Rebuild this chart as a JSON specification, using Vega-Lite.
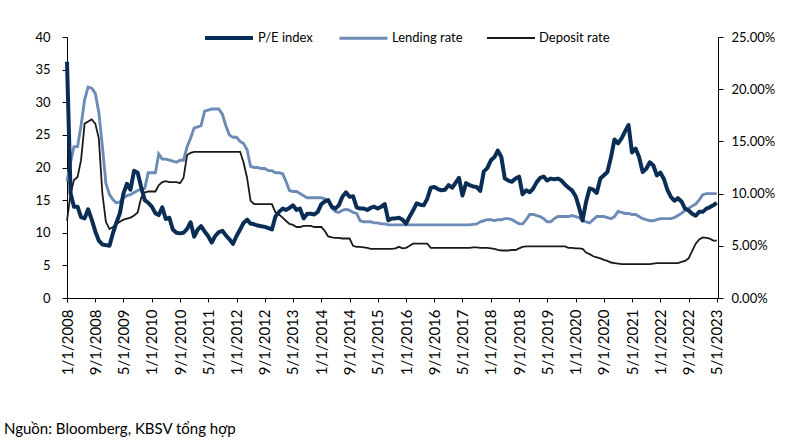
{
  "$schema": "https://vega.github.io/schema/vega-lite/v6.json",
  "width": 651,
  "height": 261,
  "autosize": {"type": "none"},
  "padding": {"left": 67, "top": 37, "right": 84, "bottom": 146},
  "background": "white",
  "config": {
    "view": {"stroke": null},
    "font": "Lato",
    "axis": {"grid": false, "domainColor": "black", "tickColor": "black", "labelColor": "black", "labelFont": "Lato", "titleFont": "Lato"}
  },
  "title": {
    "text": "Nguồn: Bloomberg, KBSV tổng hợp",
    "orient": "bottom",
    "anchor": "start",
    "frame": "group",
    "dx": -63,
    "offset": 47,
    "font": "Lato",
    "fontSize": 15,
    "fontWeight": "normal",
    "color": "black"
  },
  "data": {
    "values": [
      {"d": "2008/01/01", "pe": 36.2, "lend": 11.2, "dep": 7.4},
      {"d": "2008/02/01", "pe": 16, "lend": 13, "dep": 10},
      {"d": "2008/03/01", "pe": 14, "lend": 14.5, "dep": 11.3},
      {"d": "2008/04/01", "pe": 14, "lend": 14.5, "dep": 11.6},
      {"d": "2008/05/01", "pe": 12.4, "lend": 16.5, "dep": 13.2},
      {"d": "2008/06/01", "pe": 12.2, "lend": 19, "dep": 16.7},
      {"d": "2008/07/01", "pe": 13.6, "lend": 20.2, "dep": 16.9},
      {"d": "2008/08/01", "pe": 12, "lend": 20.1, "dep": 17.1},
      {"d": "2008/09/01", "pe": 10.2, "lend": 19.6, "dep": 16.7},
      {"d": "2008/10/01", "pe": 8.8, "lend": 17.8, "dep": 15.3},
      {"d": "2008/11/01", "pe": 8.2, "lend": 14.5, "dep": 10},
      {"d": "2008/12/01", "pe": 8.1, "lend": 11, "dep": 7.3},
      {"d": "2009/01/01", "pe": 8.0, "lend": 9.9, "dep": 6.6},
      {"d": "2009/02/01", "pe": 10, "lend": 9.4, "dep": 6.8},
      {"d": "2009/03/01", "pe": 11.5, "lend": 9.1, "dep": 7.1},
      {"d": "2009/04/01", "pe": 13, "lend": 9.2, "dep": 7.3},
      {"d": "2009/05/01", "pe": 16, "lend": 9.6, "dep": 7.5},
      {"d": "2009/06/01", "pe": 17.5, "lend": 9.8, "dep": 7.6},
      {"d": "2009/07/01", "pe": 16.6, "lend": 9.9, "dep": 7.7},
      {"d": "2009/08/01", "pe": 19.5, "lend": 10.1, "dep": 7.9},
      {"d": "2009/09/01", "pe": 19.2, "lend": 10.3, "dep": 8.2},
      {"d": "2009/10/01", "pe": 17, "lend": 10.4, "dep": 9.6},
      {"d": "2009/11/01", "pe": 15, "lend": 10.5, "dep": 10.1},
      {"d": "2009/12/01", "pe": 14.6, "lend": 12, "dep": 10.2},
      {"d": "2010/01/01", "pe": 14, "lend": 12, "dep": 10.2},
      {"d": "2010/02/01", "pe": 13, "lend": 12, "dep": 10.2},
      {"d": "2010/03/01", "pe": 12.7, "lend": 13.8, "dep": 10.8},
      {"d": "2010/04/01", "pe": 13.9, "lend": 13.3, "dep": 11.1},
      {"d": "2010/05/01", "pe": 12.1, "lend": 13.3, "dep": 11.2},
      {"d": "2010/06/01", "pe": 12.3, "lend": 13.2, "dep": 11.1},
      {"d": "2010/07/01", "pe": 10.5, "lend": 13.1, "dep": 11.1},
      {"d": "2010/08/01", "pe": 10, "lend": 13, "dep": 11.1},
      {"d": "2010/09/01", "pe": 9.9, "lend": 13.2, "dep": 11.0},
      {"d": "2010/10/01", "pe": 10, "lend": 13.2, "dep": 11.5},
      {"d": "2010/11/01", "pe": 10.6, "lend": 14.5, "dep": 13.7},
      {"d": "2010/12/01", "pe": 11.6, "lend": 15.3, "dep": 13.9},
      {"d": "2011/01/01", "pe": 9.4, "lend": 16.3, "dep": 14},
      {"d": "2011/02/01", "pe": 10.5, "lend": 16.4, "dep": 14},
      {"d": "2011/03/01", "pe": 11, "lend": 16.5, "dep": 14},
      {"d": "2011/04/01", "pe": 10.2, "lend": 17.9, "dep": 14},
      {"d": "2011/05/01", "pe": 9.5, "lend": 18, "dep": 14},
      {"d": "2011/06/01", "pe": 8.5, "lend": 18.1, "dep": 14},
      {"d": "2011/07/01", "pe": 9.5, "lend": 18.1, "dep": 14},
      {"d": "2011/08/01", "pe": 10.1, "lend": 18.1, "dep": 14},
      {"d": "2011/09/01", "pe": 10.3, "lend": 17.6, "dep": 14},
      {"d": "2011/10/01", "pe": 9.6, "lend": 16.5, "dep": 14},
      {"d": "2011/11/01", "pe": 9, "lend": 15.6, "dep": 14},
      {"d": "2011/12/01", "pe": 8.3, "lend": 15.4, "dep": 14},
      {"d": "2012/01/01", "pe": 9.5, "lend": 15.4, "dep": 14},
      {"d": "2012/02/01", "pe": 10.5, "lend": 15, "dep": 14},
      {"d": "2012/03/01", "pe": 11.5, "lend": 14.8, "dep": 13},
      {"d": "2012/04/01", "pe": 12, "lend": 14.2, "dep": 11.5},
      {"d": "2012/05/01", "pe": 11.4, "lend": 12.6, "dep": 9.3},
      {"d": "2012/06/01", "pe": 11.3, "lend": 12.5, "dep": 9},
      {"d": "2012/07/01", "pe": 11.1, "lend": 12.5, "dep": 9},
      {"d": "2012/08/01", "pe": 11, "lend": 12.4, "dep": 9},
      {"d": "2012/09/01", "pe": 10.9, "lend": 12.4, "dep": 9},
      {"d": "2012/10/01", "pe": 10.7, "lend": 12.2, "dep": 9},
      {"d": "2012/11/01", "pe": 10.5, "lend": 12.2, "dep": 9},
      {"d": "2012/12/01", "pe": 12.5, "lend": 12, "dep": 8.2},
      {"d": "2013/01/01", "pe": 13.2, "lend": 12, "dep": 8},
      {"d": "2013/02/01", "pe": 13.7, "lend": 11.9, "dep": 7.7},
      {"d": "2013/03/01", "pe": 13.5, "lend": 11.2, "dep": 7.4},
      {"d": "2013/04/01", "pe": 13.8, "lend": 10.3, "dep": 7.1},
      {"d": "2013/05/01", "pe": 14.2, "lend": 10.2, "dep": 7},
      {"d": "2013/06/01", "pe": 13.5, "lend": 10.2, "dep": 6.8},
      {"d": "2013/07/01", "pe": 13.7, "lend": 10, "dep": 6.8},
      {"d": "2013/08/01", "pe": 12.2, "lend": 9.8, "dep": 6.9},
      {"d": "2013/09/01", "pe": 12.9, "lend": 9.6, "dep": 6.9},
      {"d": "2013/10/01", "pe": 12.9, "lend": 9.6, "dep": 6.9},
      {"d": "2013/11/01", "pe": 12.8, "lend": 9.6, "dep": 6.8},
      {"d": "2013/12/01", "pe": 13.2, "lend": 9.6, "dep": 6.8},
      {"d": "2014/01/01", "pe": 14.4, "lend": 9.6, "dep": 6.8},
      {"d": "2014/02/01", "pe": 14.8, "lend": 9.5, "dep": 6.4},
      {"d": "2014/03/01", "pe": 15, "lend": 9.3, "dep": 5.9},
      {"d": "2014/04/01", "pe": 14, "lend": 8.6, "dep": 5.8},
      {"d": "2014/05/01", "pe": 13.7, "lend": 8.3, "dep": 5.75},
      {"d": "2014/06/01", "pe": 14.2, "lend": 8.2, "dep": 5.75},
      {"d": "2014/07/01", "pe": 15.5, "lend": 8.4, "dep": 5.7},
      {"d": "2014/08/01", "pe": 16.2, "lend": 8.5, "dep": 5.7},
      {"d": "2014/09/01", "pe": 15.5, "lend": 8.4, "dep": 5.7},
      {"d": "2014/10/01", "pe": 15.6, "lend": 8.2, "dep": 5},
      {"d": "2014/11/01", "pe": 13.9, "lend": 8.1, "dep": 4.9},
      {"d": "2014/12/01", "pe": 13.7, "lend": 7.4, "dep": 4.9},
      {"d": "2015/01/01", "pe": 13.7, "lend": 7.3, "dep": 4.85},
      {"d": "2015/02/01", "pe": 13.5, "lend": 7.3, "dep": 4.8},
      {"d": "2015/03/01", "pe": 13.8, "lend": 7.3, "dep": 4.7},
      {"d": "2015/04/01", "pe": 14, "lend": 7.2, "dep": 4.7},
      {"d": "2015/05/01", "pe": 13.7, "lend": 7.2, "dep": 4.7},
      {"d": "2015/06/01", "pe": 14, "lend": 7.1, "dep": 4.7},
      {"d": "2015/07/01", "pe": 14.4, "lend": 7.1, "dep": 4.7},
      {"d": "2015/08/01", "pe": 11.9, "lend": 7, "dep": 4.7},
      {"d": "2015/09/01", "pe": 12.2, "lend": 7, "dep": 4.7},
      {"d": "2015/10/01", "pe": 12.2, "lend": 7, "dep": 4.75},
      {"d": "2015/11/01", "pe": 12.3, "lend": 7, "dep": 4.9},
      {"d": "2015/12/01", "pe": 12, "lend": 7, "dep": 4.75},
      {"d": "2016/01/01", "pe": 11.4, "lend": 7, "dep": 4.8},
      {"d": "2016/02/01", "pe": 12.5, "lend": 7, "dep": 5},
      {"d": "2016/03/01", "pe": 13.4, "lend": 7, "dep": 5.2},
      {"d": "2016/04/01", "pe": 14.5, "lend": 7, "dep": 5.2},
      {"d": "2016/05/01", "pe": 14.3, "lend": 7, "dep": 5.2},
      {"d": "2016/06/01", "pe": 14.2, "lend": 7, "dep": 5.2},
      {"d": "2016/07/01", "pe": 15.2, "lend": 7, "dep": 5.2},
      {"d": "2016/08/01", "pe": 16.9, "lend": 7, "dep": 4.8},
      {"d": "2016/09/01", "pe": 17, "lend": 7, "dep": 4.8},
      {"d": "2016/10/01", "pe": 16.7, "lend": 7, "dep": 4.8},
      {"d": "2016/11/01", "pe": 16.5, "lend": 7, "dep": 4.8},
      {"d": "2016/12/01", "pe": 16.6, "lend": 7, "dep": 4.8},
      {"d": "2017/01/01", "pe": 17.3, "lend": 7, "dep": 4.8},
      {"d": "2017/02/01", "pe": 16.9, "lend": 7, "dep": 4.8},
      {"d": "2017/03/01", "pe": 17.6, "lend": 7, "dep": 4.8},
      {"d": "2017/04/01", "pe": 18.4, "lend": 7, "dep": 4.8},
      {"d": "2017/05/01", "pe": 15.7, "lend": 7, "dep": 4.8},
      {"d": "2017/06/01", "pe": 17.6, "lend": 7, "dep": 4.8},
      {"d": "2017/07/01", "pe": 17.3, "lend": 7, "dep": 4.8},
      {"d": "2017/08/01", "pe": 17.1, "lend": 7.05, "dep": 4.85},
      {"d": "2017/09/01", "pe": 17, "lend": 7.1, "dep": 4.85},
      {"d": "2017/10/01", "pe": 16.4, "lend": 7.3, "dep": 4.8},
      {"d": "2017/11/01", "pe": 19.4, "lend": 7.4, "dep": 4.8},
      {"d": "2017/12/01", "pe": 19.9, "lend": 7.5, "dep": 4.8},
      {"d": "2018/01/01", "pe": 21.1, "lend": 7.5, "dep": 4.75},
      {"d": "2018/02/01", "pe": 21.6, "lend": 7.4, "dep": 4.7},
      {"d": "2018/03/01", "pe": 22.6, "lend": 7.5, "dep": 4.6},
      {"d": "2018/04/01", "pe": 21.6, "lend": 7.5, "dep": 4.55},
      {"d": "2018/05/01", "pe": 18.3, "lend": 7.6, "dep": 4.55},
      {"d": "2018/06/01", "pe": 18, "lend": 7.6, "dep": 4.55},
      {"d": "2018/07/01", "pe": 17.8, "lend": 7.5, "dep": 4.6},
      {"d": "2018/08/01", "pe": 18.3, "lend": 7.3, "dep": 4.6},
      {"d": "2018/09/01", "pe": 18.6, "lend": 7.1, "dep": 4.75},
      {"d": "2018/10/01", "pe": 15.9, "lend": 7.1, "dep": 4.9},
      {"d": "2018/11/01", "pe": 16.5, "lend": 7.5, "dep": 4.95},
      {"d": "2018/12/01", "pe": 16.2, "lend": 8.0, "dep": 4.95},
      {"d": "2019/01/01", "pe": 16.8, "lend": 8.0, "dep": 4.95},
      {"d": "2019/02/01", "pe": 17.8, "lend": 7.9, "dep": 4.95},
      {"d": "2019/03/01", "pe": 18.4, "lend": 7.8, "dep": 4.95},
      {"d": "2019/04/01", "pe": 18.6, "lend": 7.6, "dep": 4.95},
      {"d": "2019/05/01", "pe": 18, "lend": 7.3, "dep": 4.95},
      {"d": "2019/06/01", "pe": 18.3, "lend": 7.3, "dep": 4.95},
      {"d": "2019/07/01", "pe": 18.2, "lend": 7.6, "dep": 4.95},
      {"d": "2019/08/01", "pe": 18.3, "lend": 7.8, "dep": 4.95},
      {"d": "2019/09/01", "pe": 18, "lend": 7.8, "dep": 4.95},
      {"d": "2019/10/01", "pe": 17.4, "lend": 7.8, "dep": 4.95},
      {"d": "2019/11/01", "pe": 16.9, "lend": 7.8, "dep": 4.8},
      {"d": "2019/12/01", "pe": 16.5, "lend": 7.9, "dep": 4.8},
      {"d": "2020/01/01", "pe": 15.6, "lend": 7.8, "dep": 4.75},
      {"d": "2020/02/01", "pe": 13.8, "lend": 7.7, "dep": 4.75},
      {"d": "2020/03/01", "pe": 11.9, "lend": 7.4, "dep": 4.7},
      {"d": "2020/04/01", "pe": 14.8, "lend": 7.3, "dep": 4.35},
      {"d": "2020/05/01", "pe": 16.8, "lend": 7.2, "dep": 4.2},
      {"d": "2020/06/01", "pe": 16.6, "lend": 7.5, "dep": 4.0},
      {"d": "2020/07/01", "pe": 16.1, "lend": 7.8, "dep": 3.9},
      {"d": "2020/08/01", "pe": 18.3, "lend": 7.8, "dep": 3.8},
      {"d": "2020/09/01", "pe": 18.8, "lend": 7.8, "dep": 3.65},
      {"d": "2020/10/01", "pe": 19.3, "lend": 7.7, "dep": 3.55},
      {"d": "2020/11/01", "pe": 21.6, "lend": 7.6, "dep": 3.4},
      {"d": "2020/12/01", "pe": 24.3, "lend": 7.8, "dep": 3.35},
      {"d": "2021/01/01", "pe": 23.7, "lend": 8.3, "dep": 3.3},
      {"d": "2021/02/01", "pe": 24.5, "lend": 8.2, "dep": 3.25},
      {"d": "2021/03/01", "pe": 25.5, "lend": 8.1, "dep": 3.25},
      {"d": "2021/04/01", "pe": 26.5, "lend": 8.1, "dep": 3.25},
      {"d": "2021/05/01", "pe": 22.3, "lend": 8.0, "dep": 3.25},
      {"d": "2021/06/01", "pe": 22.9, "lend": 8.0, "dep": 3.25},
      {"d": "2021/07/01", "pe": 21.6, "lend": 7.8, "dep": 3.25},
      {"d": "2021/08/01", "pe": 19.3, "lend": 7.6, "dep": 3.25},
      {"d": "2021/09/01", "pe": 19.8, "lend": 7.5, "dep": 3.25},
      {"d": "2021/10/01", "pe": 20.8, "lend": 7.4, "dep": 3.25},
      {"d": "2021/11/01", "pe": 20.3, "lend": 7.4, "dep": 3.3},
      {"d": "2021/12/01", "pe": 18.8, "lend": 7.5, "dep": 3.35},
      {"d": "2022/01/01", "pe": 19.2, "lend": 7.6, "dep": 3.35},
      {"d": "2022/02/01", "pe": 18.2, "lend": 7.6, "dep": 3.35},
      {"d": "2022/03/01", "pe": 16.6, "lend": 7.6, "dep": 3.35},
      {"d": "2022/04/01", "pe": 15.5, "lend": 7.6, "dep": 3.35},
      {"d": "2022/05/01", "pe": 14.9, "lend": 7.7, "dep": 3.35},
      {"d": "2022/06/01", "pe": 15.3, "lend": 7.9, "dep": 3.35},
      {"d": "2022/07/01", "pe": 14.8, "lend": 8.1, "dep": 3.45},
      {"d": "2022/08/01", "pe": 13.7, "lend": 8.4, "dep": 3.55},
      {"d": "2022/09/01", "pe": 13.4, "lend": 8.6, "dep": 3.8},
      {"d": "2022/10/01", "pe": 12.9, "lend": 8.8, "dep": 4.5},
      {"d": "2022/11/01", "pe": 12.6, "lend": 9.0, "dep": 5.2},
      {"d": "2022/12/01", "pe": 13.2, "lend": 9.4, "dep": 5.6},
      {"d": "2023/01/01", "pe": 13.2, "lend": 9.9, "dep": 5.8},
      {"d": "2023/02/01", "pe": 13.7, "lend": 10, "dep": 5.75},
      {"d": "2023/03/01", "pe": 13.9, "lend": 10, "dep": 5.7},
      {"d": "2023/04/01", "pe": 14.2, "lend": 10, "dep": 5.5},
      {"d": "2023/05/01", "pe": 14.6, "lend": 10, "dep": 5.5}
    ]
  },
  "transform": [{"fold": ["pe", "lend", "dep"], "as": ["key", "v"]}],
  "encoding": {
    "x": {
      "field": "d",
      "type": "temporal",
      "title": null,
      "scale": {"domain": [{"year": 2008, "month": 1, "date": 1}, {"year": 2023, "month": 5, "date": 12}]},
      "axis": {
        "values": [
          {"year": 2008, "month": 1, "date": 1}, {"year": 2008, "month": 9, "date": 1},
          {"year": 2009, "month": 5, "date": 1}, {"year": 2010, "month": 1, "date": 1},
          {"year": 2010, "month": 9, "date": 1}, {"year": 2011, "month": 5, "date": 1},
          {"year": 2012, "month": 1, "date": 1}, {"year": 2012, "month": 9, "date": 1},
          {"year": 2013, "month": 5, "date": 1}, {"year": 2014, "month": 1, "date": 1},
          {"year": 2014, "month": 9, "date": 1}, {"year": 2015, "month": 5, "date": 1},
          {"year": 2016, "month": 1, "date": 1}, {"year": 2016, "month": 9, "date": 1},
          {"year": 2017, "month": 5, "date": 1}, {"year": 2018, "month": 1, "date": 1},
          {"year": 2018, "month": 9, "date": 1}, {"year": 2019, "month": 5, "date": 1},
          {"year": 2020, "month": 1, "date": 1}, {"year": 2020, "month": 9, "date": 1},
          {"year": 2021, "month": 5, "date": 1}, {"year": 2022, "month": 1, "date": 1},
          {"year": 2022, "month": 9, "date": 1}, {"year": 2023, "month": 5, "date": 1}
        ],
        "format": "%-m/%-d/%Y",
        "labelAngle": -90,
        "labelFontSize": 15,
        "labelPadding": 7,
        "tickSize": 4,
        "labelOverlap": false,
        "labelFlush": false
      }
    },
    "color": {
      "field": "key",
      "type": "nominal",
      "scale": {"domain": ["pe", "lend", "dep"], "range": ["#0a2d55", "#6c8bb6", "#1a1a1a"]},
      "legend": {
        "orient": "none",
        "legendX": 136,
        "legendY": -25,
        "direction": "horizontal",
        "title": null,
        "symbolType": "stroke",
        "symbolSize": 2304,
        "labelFont": "Lato",
        "labelFontSize": 13,
        "labelColor": "black",
        "labelOffset": 3,
        "columnPadding": 20,
        "labelExpr": "{'pe': 'P/E index', 'lend': 'Lending rate', 'dep': 'Deposit rate'}[datum.label]"
      }
    },
    "strokeWidth": {
      "field": "key",
      "type": "nominal",
      "scale": {"domain": ["pe", "lend", "dep"], "range": [4, 1.8, 1.6]},
      "legend": null
    }
  },
  "layer": [
    {
      "transform": [{"filter": "datum.key != 'pe'"}],
      "mark": {"type": "line", "interpolate": "linear"},
      "encoding": {
        "y": {
          "field": "v",
          "type": "quantitative",
          "title": null,
          "scale": {"domain": [0, 25]},
          "axis": {
            "orient": "right",
            "values": [0, 5, 10, 15, 20, 25],
            "labelExpr": "format(datum.value, '.2f') + '%'",
            "labelFontSize": 13,
            "labelPadding": 8,
            "tickSize": 5
          }
        }
      }
    },
    {
      "transform": [{"filter": "datum.key == 'pe'"}],
      "mark": {"type": "line", "interpolate": "linear", "strokeJoin": "round"},
      "encoding": {
        "y": {
          "field": "v",
          "type": "quantitative",
          "title": null,
          "scale": {"domain": [0, 40]},
          "axis": {
            "orient": "left",
            "values": [0, 5, 10, 15, 20, 25, 30, 35, 40],
            "labelFontSize": 13,
            "labelPadding": 12,
            "tickSize": 5
          }
        }
      }
    }
  ],
  "resolve": {"scale": {"y": "independent"}}
}
